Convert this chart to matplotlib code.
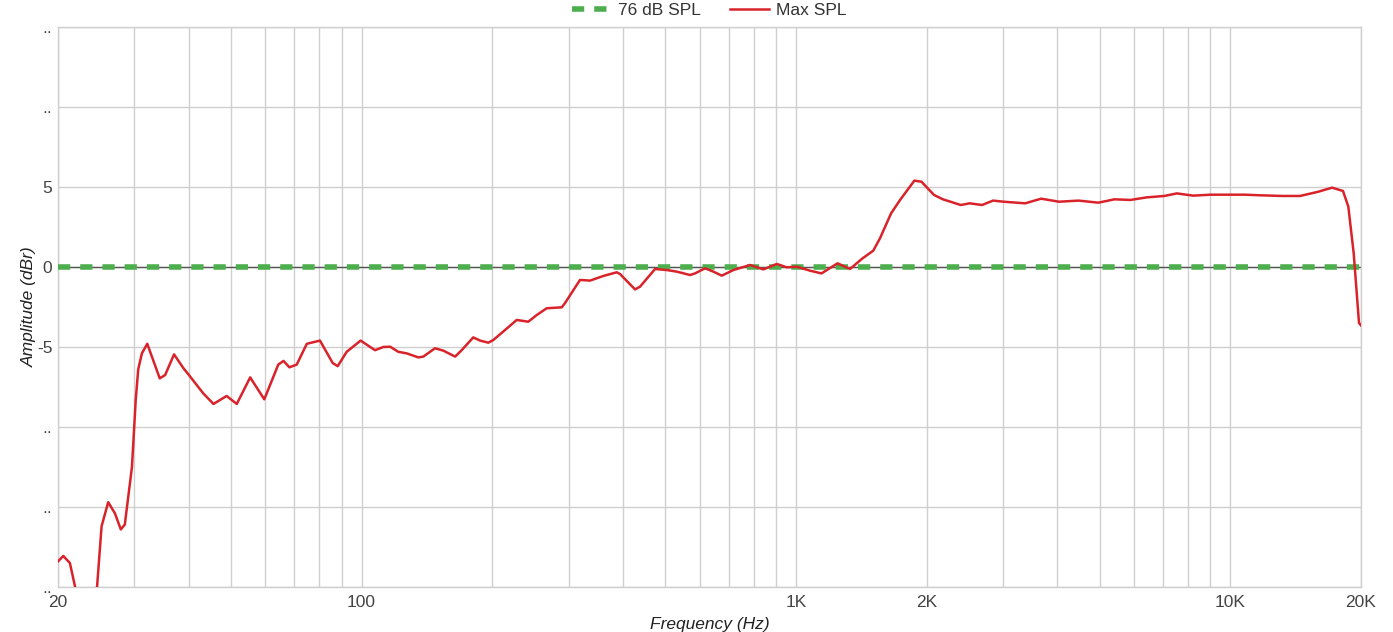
import matplotlib
matplotlib.use("Agg")
import matplotlib.pyplot as plt
from matplotlib.ticker import FixedLocator, NullFormatter

plt.rcParams['font.family'] = ['Liberation Sans', 'DejaVu Sans']

# Max SPL response (Hz, dBr)
freq = [20.0, 20.57, 21.3, 21.9, 22.5, 23.2, 24.0, 24.6, 25.2, 26.1, 27.05, 27.9,
        28.5, 29.6, 30.2, 30.6, 31.2, 32.1, 33.1, 34.3, 35.3, 37.0, 38.9, 39.9,
        43.2, 45.6, 48.9, 51.6, 55.4, 59.7, 64.3, 66.1, 68.2, 70.9, 74.8, 80.2,
        85.8, 88.1, 92.4, 99.5, 107.4, 112.2, 116.3, 121.5, 127.1, 135.1, 138.7,
        147.6, 154.3, 164.2, 170.1, 180.8, 187.4, 195.8, 201.1, 213.9, 227.6,
        242.0, 253.1, 266.8, 289.0, 294.1, 318.3, 335.8, 360.3, 386.8, 393.6,
        426.2, 437.6, 473.9, 504.3, 531.7, 570.5, 585.8, 617.7, 645.5, 674.9,
        717.8, 784.3, 841.5, 903.5, 952.7, 1004.4, 1077.7, 1145, 1247, 1332,
        1423.5, 1506.7, 1562, 1655.9, 1737, 1874, 1945.5, 2080, 2180, 2396, 2512,
        2683, 2843, 3009, 3371, 3669, 4033, 4477, 4968, 5410, 5893, 6415, 7052,
        7535, 8210, 9021, 9920, 10797, 11760, 13162, 14482, 15924, 17160, 18182,
        18700, 19242, 19790, 20000]
max_spl = [-18.4, -18.06, -18.5, -20.0, -22.0, -23.5, -22.0, -20.0, -16.2, -14.7,
           -15.4, -16.4, -16.1, -12.5, -8.3, -6.4, -5.4, -4.8, -5.8, -6.96, -6.75,
           -5.46, -6.33, -6.7, -7.9, -8.56, -8.06, -8.56, -6.9, -8.27, -6.1, -5.87,
           -6.27, -6.1, -4.8, -4.6, -6.0, -6.2, -5.3, -4.6, -5.2, -5.0, -4.98, -5.3,
           -5.4, -5.65, -5.6, -5.08, -5.23, -5.6, -5.19, -4.4, -4.6, -4.73, -4.56,
           -3.94, -3.31, -3.42, -3.0, -2.58, -2.52, -2.25, -0.81, -0.85, -0.56,
           -0.33, -0.44, -1.4, -1.23, -0.125, -0.19, -0.29, -0.5, -0.4, -0.08,
           -0.29, -0.54, -0.19, 0.125, -0.15, 0.19, -0.02, 0.02, -0.23, -0.4, 0.23,
           -0.125, 0.54, 1.02, 1.8, 3.35, 4.19, 5.4, 5.33, 4.5, 4.23, 3.875, 3.98,
           3.875, 4.15, 4.08, 3.98, 4.27, 4.08, 4.15, 4.02, 4.23, 4.19, 4.35, 4.44,
           4.6, 4.46, 4.52, 4.52, 4.52, 4.48, 4.44, 4.44, 4.7, 4.96, 4.75, 3.77,
           0.85, -3.5, -3.65]

ref_freq = [20, 20000]
ref_level = [0, 0]

x_ticks = [20, 100, 1000, 2000, 10000, 20000]
x_labels = ['20', '100', '1K', '2K', '10K', '20K']
y_ticks = [15, 10, 5, 0, -5, -10, -15, -20]
y_labels = ['..', '..', '5', '0', '-5', '..', '..', '..']

fig = plt.figure(figsize=(13.93, 6.32), dpi=100)
ax = fig.add_axes([58 / 1393, 45 / 632, 1303 / 1393, 560 / 632])

ax.set_xscale('log')
ax.set_xlim(20, 20000)
ax.set_ylim(-20, 15)

# grid at every 1..9 multiple
grid_x = [m * 10 ** e for e in range(1, 5) for m in range(1, 10)
          if 20 <= m * 10 ** e <= 20000]
ax.xaxis.set_minor_locator(FixedLocator(grid_x))
ax.xaxis.set_minor_formatter(NullFormatter())
ax.set_xticks(x_ticks)
ax.set_xticklabels(x_labels)
ax.set_yticks(y_ticks)
ax.set_yticklabels(y_labels)
ax.grid(True, which='both', color='#cfcfcf', lw=1.0)
ax.tick_params(which='both', length=0, labelsize=12.5, colors='#444444', pad=6)
ax.tick_params(axis='y', pad=4)
for s in ax.spines.values():
    s.set_color('#cfcfcf')
    s.set_linewidth(1.0)

ax.axhline(0, color='#555555', lw=1.0, zorder=2)
ax.plot(ref_freq, ref_level, color='#4cae4c', lw=4.0, dashes=(2.2, 1.8),
        label='76 dB SPL', zorder=3)
ax.plot(freq, max_spl, color='#d9232a', lw=1.8, label='Max SPL', zorder=4)

ax.set_ylabel('Amplitude (dBr)', style='italic', fontsize=12.5, color='#222222',
              labelpad=0)
ax.set_xlabel('Frequency (Hz)', style='italic', fontsize=12.5, color='#222222',
              labelpad=5)

ax.legend(loc='lower center', bbox_to_anchor=(0.5, 1.0), ncol=2, frameon=False,
          fontsize=12.5, handlelength=2.2, handletextpad=0.45, columnspacing=1.7,
          borderaxespad=0.4, borderpad=0.1, labelcolor='#333333')

fig.savefig('out.png', dpi=100)
